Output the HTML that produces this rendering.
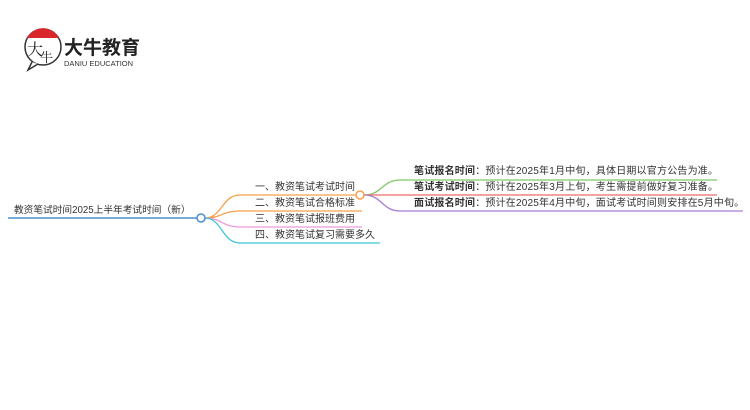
<!DOCTYPE html>
<html><head><meta charset="utf-8"><style>
body{margin:0;width:750px;height:410px;background:#fff;overflow:hidden;position:relative;font-family:"Liberation Sans","Noto Sans CJK SC",sans-serif}
.t{position:absolute;font-size:10px;color:#333;white-space:nowrap;line-height:12px}
b{font-weight:bold}
</style></head><body>
<svg width="750" height="410" style="position:absolute;left:0;top:0">
<circle cx="43" cy="47" r="18" fill="none" stroke="#333" stroke-width="1.5"/>
<path d="M27 38 A18 18 0 0 1 59 38 Z" fill="#d9262b"/>
<path d="M32 62 L28 70 L38 64" fill="#fff" stroke="#333" stroke-width="1.5"/>
<text x="27" y="55" font-size="16" font-family="Noto Serif CJK SC,serif" fill="#222">大</text>
<text x="40" y="62" font-size="13" font-family="Noto Serif CJK SC,serif" fill="#222">牛</text>
<text x="64" y="54" font-size="19" font-weight="bold" font-family="Noto Sans CJK SC,sans-serif" fill="#222">大牛教育</text>
<text x="64" y="66" font-size="7.5" font-family="Liberation Sans,sans-serif" fill="#333">DANIU EDUCATION</text>
<line x1="8" y1="218" x2="197" y2="218" stroke="#4a8fd0" stroke-width="1.5"/>
<g fill="none" stroke-width="1.3">
<path d="M205 218 C222 218,222 195,240 195 L357 195" stroke="#f7a04b"/>
<path d="M205 218 C222 218,222 211,240 211 L362 211" stroke="#f7a04b"/>
<path d="M205 218 C222 218,222 227,240 227 L362 227" stroke="#ec9ad6"/>
<path d="M205 218 C222 218,222 243,240 243 L380 243" stroke="#3ec5d9"/>
<path d="M364 195 C382 195,382 180,400 180 L717 180" stroke="#7dc769"/>
<path d="M364 195 L717 195" stroke="#ec6a6a"/>
<path d="M364 195 C382 195,382 211,400 211 L743 211" stroke="#a77ed6"/>
</g>
<circle cx="201" cy="218" r="4" fill="#fff" stroke="#4a8fd0" stroke-width="1.5"/>
<circle cx="360" cy="195" r="4" fill="#fff" stroke="#f7a04b" stroke-width="1.5"/>
</svg>
<div class="t" style="left:14px;top:205px;font-size:9.7px">教资笔试时间2025上半年考试时间（新）</div>
<div class="t" style="left:255px;top:182px">一、教资笔试考试时间</div>
<div class="t" style="left:255px;top:198px">二、教资笔试合格标准</div>
<div class="t" style="left:255px;top:214px">三、教资笔试报班费用</div>
<div class="t" style="left:255px;top:230px">四、教资笔试复习需要多久</div>
<div class="t" style="left:414px;top:166px;letter-spacing:.2px"><b>笔试报名时间</b>：预计在2025年1月中旬，具体日期以官方公告为准。</div>
<div class="t" style="left:414px;top:182px;letter-spacing:.2px"><b>笔试考试时间</b>：预计在2025年3月上旬，考生需提前做好复习准备。</div>
<div class="t" style="left:414px;top:198px;letter-spacing:.2px"><b>面试报名时间</b>：预计在2025年4月中旬，面试考试时间则安排在5月中旬。</div>
</body></html>
